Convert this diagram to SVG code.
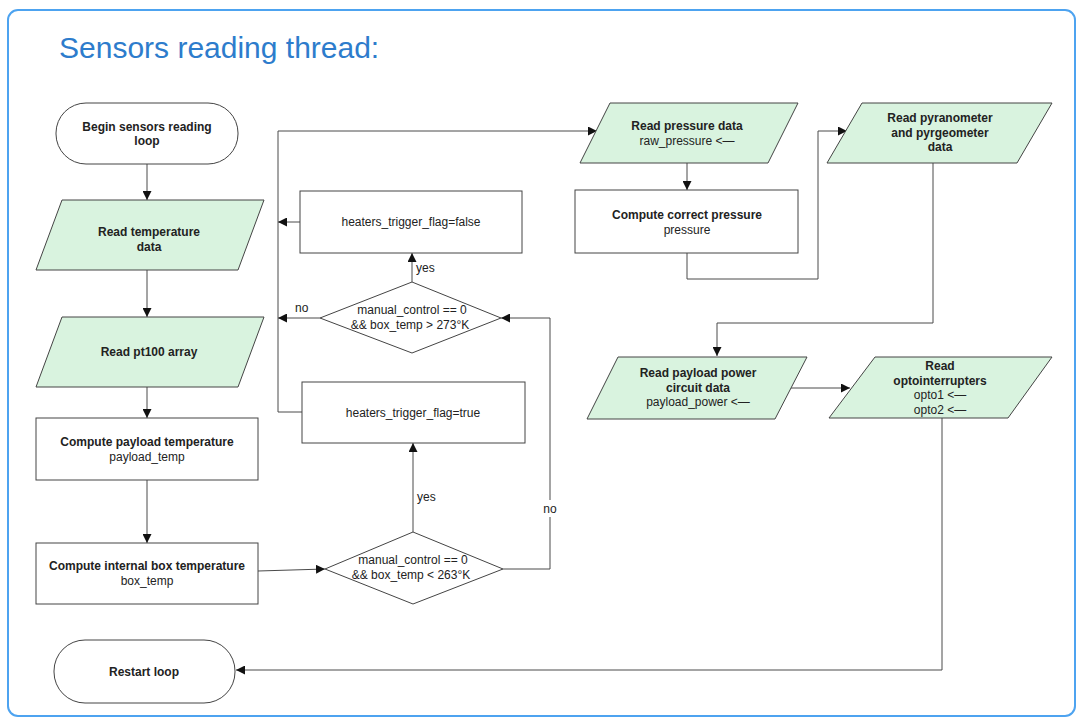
<svg xmlns="http://www.w3.org/2000/svg" width="1078" height="719" viewBox="0 0 1078 719">
<defs>
<style>
.frame{fill:#ffffff;stroke:#4da3f0;stroke-width:2}
.title{font-family:"Liberation Sans",Arial,sans-serif;font-size:30px;fill:#2d7ccc}
.term{fill:#ffffff;stroke:#444;stroke-width:1}
.io{fill:#d9f3df;stroke:#444;stroke-width:1}
.proc{fill:#ffffff;stroke:#444;stroke-width:1}
.b{font-family:"Liberation Sans",Arial,sans-serif;font-size:12px;font-weight:bold;fill:#222;text-anchor:middle}
.r{font-family:"Liberation Sans",Arial,sans-serif;font-size:12px;fill:#222;text-anchor:middle}
.lbl{font-family:"Liberation Sans",Arial,sans-serif;font-size:12px;fill:#222}
.c{fill:none;stroke:#4a4a4a;stroke-width:1}
</style>
<marker id="ah" viewBox="0 0 10 10" refX="10" refY="5" markerWidth="9" markerHeight="9" markerUnits="userSpaceOnUse" orient="auto">
<path d="M0,0 L10,5 L0,10 z" fill="#111"/>
</marker>
</defs>
<rect x="8" y="10" width="1067" height="706" rx="10" class="frame"/>
<text x="59" y="58" class="title">Sensors reading thread:</text>

<g id="connectors">
<path class="c" marker-end="url(#ah)" d="M147,164 L147,200"/>
<path class="c" marker-end="url(#ah)" d="M147,270 L147,317"/>
<path class="c" marker-end="url(#ah)" d="M147,387 L147,418"/>
<path class="c" marker-end="url(#ah)" d="M147,480 L147,543"/>
<path class="c" marker-end="url(#ah)" d="M258,571 L325,569"/>
<path class="c" marker-end="url(#ah)" d="M413,532 L413,443"/>
<path class="c" marker-end="url(#ah)" d="M503,569 L550,569 L550,318 L501,318"/>
<path class="c" marker-end="url(#ah)" d="M412,282 L412,253"/>
<path class="c" marker-end="url(#ah)" d="M320,318 L278,318"/>
<path class="c" marker-end="url(#ah)" d="M300,222 L278,222"/>
<path class="c" marker-end="url(#ah)" d="M302,412 L278,412 L278,131 L597,131"/>
<path class="c" marker-end="url(#ah)" d="M687,163 L687,190"/>
<path class="c" marker-end="url(#ah)" d="M687,253 L687,279 L818,279 L818,131 L847,131"/>
<path class="c" marker-end="url(#ah)" d="M933,163 L933,323 L717,323 L717,356"/>
<path class="c" marker-end="url(#ah)" d="M788,388 L850,388"/>
<path class="c" marker-end="url(#ah)" d="M942,418 L942,670 L236,670"/>
<rect x="540" y="500" width="20" height="17" fill="#ffffff"/>
<text x="550" y="513" class="r">no</text>
<text x="417" y="501" class="lbl">yes</text>
<text x="416" y="272" class="lbl">yes</text>
<text x="295" y="312" class="lbl">no</text>
</g>

<g id="begin">
<rect x="56" y="103" width="182" height="61" rx="30" class="term"/>
<text x="147" y="131" class="b">Begin sensors reading</text>
<text x="147" y="145" class="b">loop</text>
</g>

<g id="read-temp">
<polygon points="62,200 264,200 238,270 36,270" class="io"/>
<text x="149" y="236" class="b">Read temperature</text>
<text x="149" y="251" class="b">data</text>
</g>

<g id="read-pt100">
<polygon points="62,317 264,317 238,387 36,387" class="io"/>
<text x="149" y="356" class="b">Read pt100 array</text>
</g>

<g id="compute-payload">
<rect x="36" y="418" width="222" height="62" class="proc"/>
<text x="147" y="446" class="b">Compute payload temperature</text>
<text x="147" y="461" class="r">payload_temp</text>
</g>

<g id="compute-box">
<rect x="36" y="543" width="222" height="61" class="proc"/>
<text x="147" y="570" class="b">Compute internal box temperature</text>
<text x="147" y="585" class="r">box_temp</text>
</g>

<g id="restart">
<rect x="54" y="640" width="181" height="63" rx="31" class="term"/>
<text x="144" y="676" class="b">Restart loop</text>
</g>

<g id="flag-false">
<rect x="300" y="191" width="222" height="62" class="proc"/>
<text x="411" y="226" class="r">heaters_trigger_flag=false</text>
</g>

<g id="decision-273">
<polygon points="412,282 501,318 412,353 320,318" class="proc"/>
<text x="412" y="314" class="r">manual_control == 0</text>
<text x="410" y="329" class="r">&amp;&amp; box_temp &gt; 273°K</text>
</g>

<g id="flag-true">
<rect x="302" y="382" width="223" height="61" class="proc"/>
<text x="413" y="417" class="r">heaters_trigger_flag=true</text>
</g>

<g id="decision-263">
<polygon points="413,532 503,569 413,604 325,569" class="proc"/>
<text x="413" y="564" class="r">manual_control == 0</text>
<text x="411" y="579" class="r">&amp;&amp; box_temp &lt; 263°K</text>
</g>

<g id="read-pressure">
<polygon points="610,103 798,103 768,163 580,163" class="io"/>
<text x="687" y="130" class="b">Read pressure data</text>
<text x="687" y="145" class="r">raw_pressure &lt;—</text>
</g>

<g id="compute-pressure">
<rect x="575" y="190" width="223" height="63" class="proc"/>
<text x="687" y="219" class="b">Compute correct pressure</text>
<text x="687" y="234" class="r">pressure</text>
</g>

<g id="read-pyranometer">
<polygon points="862,103 1052,103 1017,163 827,163" class="io"/>
<text x="940" y="122" class="b">Read pyranometer</text>
<text x="940" y="137" class="b">and pyrgeometer</text>
<text x="940" y="151" class="b">data</text>
</g>

<g id="read-payload-power">
<polygon points="618,357 807,357 775,419 587,419" class="io"/>
<text x="698" y="377" class="b">Read payload power</text>
<text x="698" y="392" class="b">circuit data</text>
<text x="698" y="406" class="r">payload_power &lt;—</text>
</g>

<g id="read-opto">
<polygon points="875,357 1052,357 1008,418 829,418" class="io"/>
<text x="940" y="370" class="b">Read</text>
<text x="940" y="385" class="b">optointerrupters</text>
<text x="940" y="399" class="r">opto1 &lt;—</text>
<text x="940" y="414" class="r">opto2 &lt;—</text>
</g>
</svg>
